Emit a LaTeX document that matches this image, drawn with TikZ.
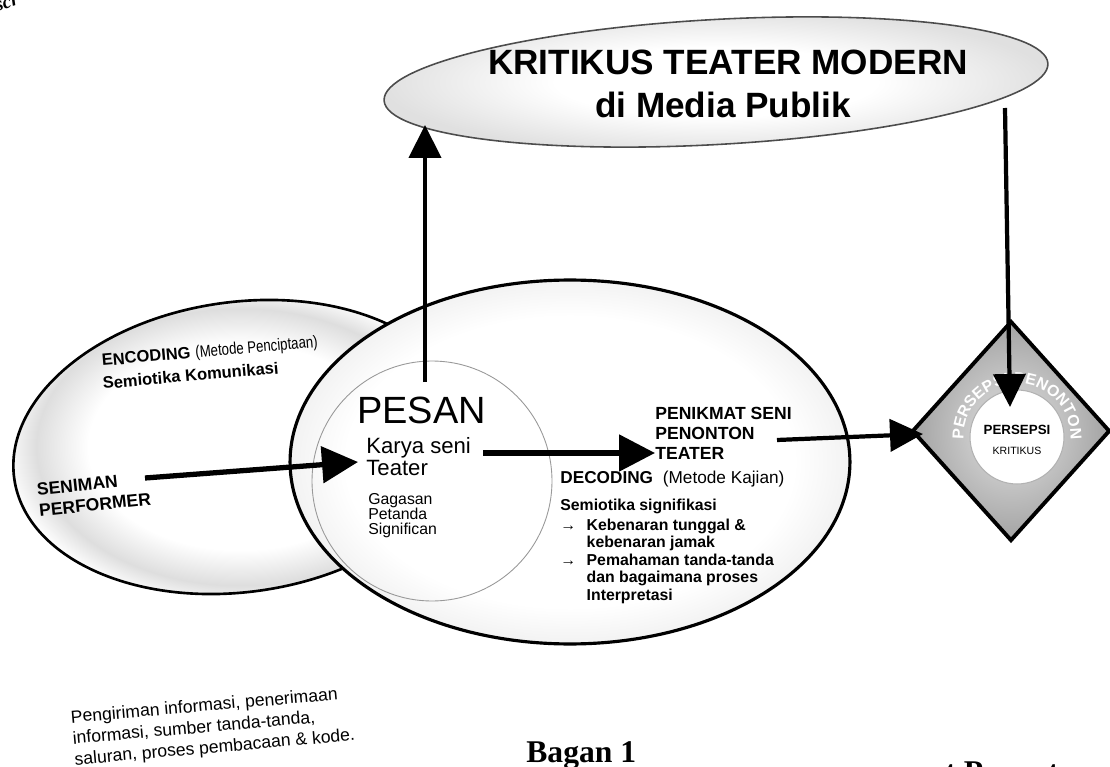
\documentclass[tikz,border=0pt]{standalone}
\usepackage{fontspec}
\setmainfont{Liberation Sans}
\newfontfamily\serifbook{Liberation Serif}
\newfontfamily\narrowfont{Liberation Sans}[FakeStretch=0.8]
\usetikzlibrary{shapes.geometric,arrows.meta,decorations.text,calc}
\colorlet{ringgray}{gray!26}
\colorlet{topgray}{gray!24}
\colorlet{halolight}{gray!10}
\colorlet{diadark}{gray!72}
\colorlet{dialight}{gray!42}
\pgfdeclareradialshading{ringhalo}{\pgfpoint{0bp}{0bp}}{color(0bp)=(white); color(16bp)=(white); color(21.5bp)=(ringgray); color(25bp)=(white); color(50bp)=(white)}
\pgfdeclareradialshading{tophalo}{\pgfpoint{0bp}{0bp}}{color(0bp)=(white); color(12bp)=(white); color(25bp)=(topgray); color(50bp)=(topgray)}
\pgfdeclareradialshading{halosoft}{\pgfpoint{0bp}{0bp}}{color(0bp)=(white); color(20bp)=(white); color(25bp)=(halolight); color(50bp)=(halolight)}
\pgfdeclareradialshading{diashade}{\pgfpoint{0bp}{0bp}}{color(0bp)=(dialight); color(10bp)=(dialight); color(25bp)=(diadark); color(50bp)=(diadark)}
\begin{document}
\begin{tikzpicture}[x=0.02cm,y=-0.02cm,
  bigarrow/.style={line width=3pt, -{Triangle[length=0.72cm,width=0.72cm]}},
  midarrow/.style={line width=2.4pt, -{Triangle[length=0.66cm,width=0.64cm]}},
  outline/.style={draw=black, line width=1.8pt},
  nw/.style={inner sep=0, align=left, anchor=north west},
  bw/.style={inner sep=0, anchor=base west},
  fs/.style 2 args={font=\fontsize{#1}{#2}\selectfont},
]
\useasboundingbox (0,0) rectangle (1110,767);
\clip (0,0) rectangle (1110,767);

% ---------- shapes ----------
\node[ellipse, draw=black, line width=1.5pt, shade, shading=ringhalo, minimum width=9.12cm, minimum height=5.8cm, inner sep=0, rotate=8] (enc) at (240,447) {};
\node[ellipse, outline, shade, shading=halosoft, minimum width=11.2cm, minimum height=7.28cm, inner sep=0] (mid) at (570,462) {};
\node[circle, draw=gray!80, line width=0.5pt, minimum size=4.8cm, inner sep=0] (pesc) at (432,481) {};
\node[ellipse, draw=black!70, line width=0.9pt, shade, shading=tophalo, minimum width=13.3cm, minimum height=2.5cm, inner sep=0, rotate=3.2] (kritik) at (716,82) {};
\node[diamond, draw=black, line width=2.2pt, shade, shading=diashade, minimum width=3.96cm, minimum height=4.4cm, inner sep=0] (dia) at (1011,431) {};
\node[circle, fill=white, draw=gray!60, line width=0.6pt, minimum size=1.88cm, inner sep=0] (persc) at (1017,437) {};

% ---------- texts ----------
\node[inner sep=0, anchor=base, font=\bfseries\fontsize{20}{24}\selectfont] (kt1) at (728,75) {KRITIKUS TEATER MODERN};
\node[inner sep=0, anchor=base, font=\bfseries\fontsize{20}{24}\selectfont] (kt2) at (723,118) {di Media Publik};

\node[bw, rotate=5] (encode) at (102,366) {{\fontsize{9.4}{11}\selectfont\bfseries ENCODING} {\narrowfont\fontsize{9.4}{11}\selectfont(Metode Penciptaan)}};
\node[bw, rotate=5, font=\bfseries\fontsize{9.4}{11}\selectfont] (semkom) at (103,389) {Semiotika Komunikasi};
\node[nw, rotate=6, font=\bfseries\fontsize{10}{12}\selectfont] (seniman) at (36,483) {SENIMAN\\PERFORMER};

\node[bw, fs={21.6}{22}] (pesan) at (357,423) {PESAN};
\node[nw, fs={12.6}{12.6}] (karya) at (366,437) {Karya seni\\Teater};
\node[nw, fs={9}{8.6}] (gagasan) at (368,493) {Gagasan\\Petanda\\Significan};

\node[nw, font=\bfseries\fontsize{10}{11.4}\selectfont] (penikmat) at (655,407) {PENIKMAT SENI\\PENONTON\\TEATER};
\node[bw] (decode) at (560,483) {{\fontsize{9.8}{11}\selectfont\bfseries DECODING}\ \ {\fontsize{9.8}{11}\selectfont(Metode Kajian)}};
\node[nw, font=\bfseries\fontsize{9}{10}\selectfont] (signif) at (560,499) {Semiotika signifikasi\\[1pt]\makebox[15pt][l]{→}Kebenaran tunggal \&\\\makebox[15pt]{}kebenaran jamak\\\makebox[15pt][l]{→}Pemahaman tanda-tanda\\\makebox[15pt]{}dan bagaimana proses\\\makebox[15pt]{}Interpretasi};

\node[align=center, inner sep=0] (persepsi) at (1017,440) {{\fontsize{7.6}{8}\selectfont\bfseries PERSEPSI}\\[-1pt]{\fontsize{6}{6.5}\selectfont KRITIKUS}};
\path[decorate, decoration={text along path, text align=center,
  text={|\bfseries\fontsize{9}{9}\selectfont\color{white}|PERSEPSI PENONTON}}]
  ($(persc)+(200:1.07cm)$) arc[start angle=200, end angle=-20, radius=1.07cm];

\node[nw, rotate=5, fs={10}{12}] (kirim) at (70,710) {Pengiriman informasi, penerimaan\\informasi, sumber tanda-tanda,\\saluran, proses pembacaan \& kode.};
\node[bw, font=\serifbook\bfseries\fontsize{18}{18}\selectfont] (bagan) at (526,762) {Bagan 1};
\node[bw, font=\serifbook\bfseries\fontsize{18}{18}\selectfont] (penonton) at (945,782) {t Penonton};
\node[bw, rotate=18, font=\serifbook\bfseries\itshape\fontsize{11}{11}\selectfont] (scr) at (-3,12) {scr};

% ---------- connectors ----------
\coordinate (upS) at (425,382);
\coordinate (upE) at (425,125);
\draw[midarrow] (upS) -- (upE);

\coordinate (senS) at (145,478);
\coordinate (senE) at (358,462);
\draw[bigarrow] (senS) -- (senE);

\coordinate (tS) at (483,453);
\coordinate (tE) at (655,453);
\draw[bigarrow] (tS) -- (tE);

\coordinate (pS) at (777,440);
\coordinate (pE) at (923,434);
\draw[midarrow] (pS) -- (pE);

\coordinate (rS) at (1005,108);
\coordinate (rE) at (1010,407);
\draw[midarrow] (rS) -- (rE);
\end{tikzpicture}
\end{document}
